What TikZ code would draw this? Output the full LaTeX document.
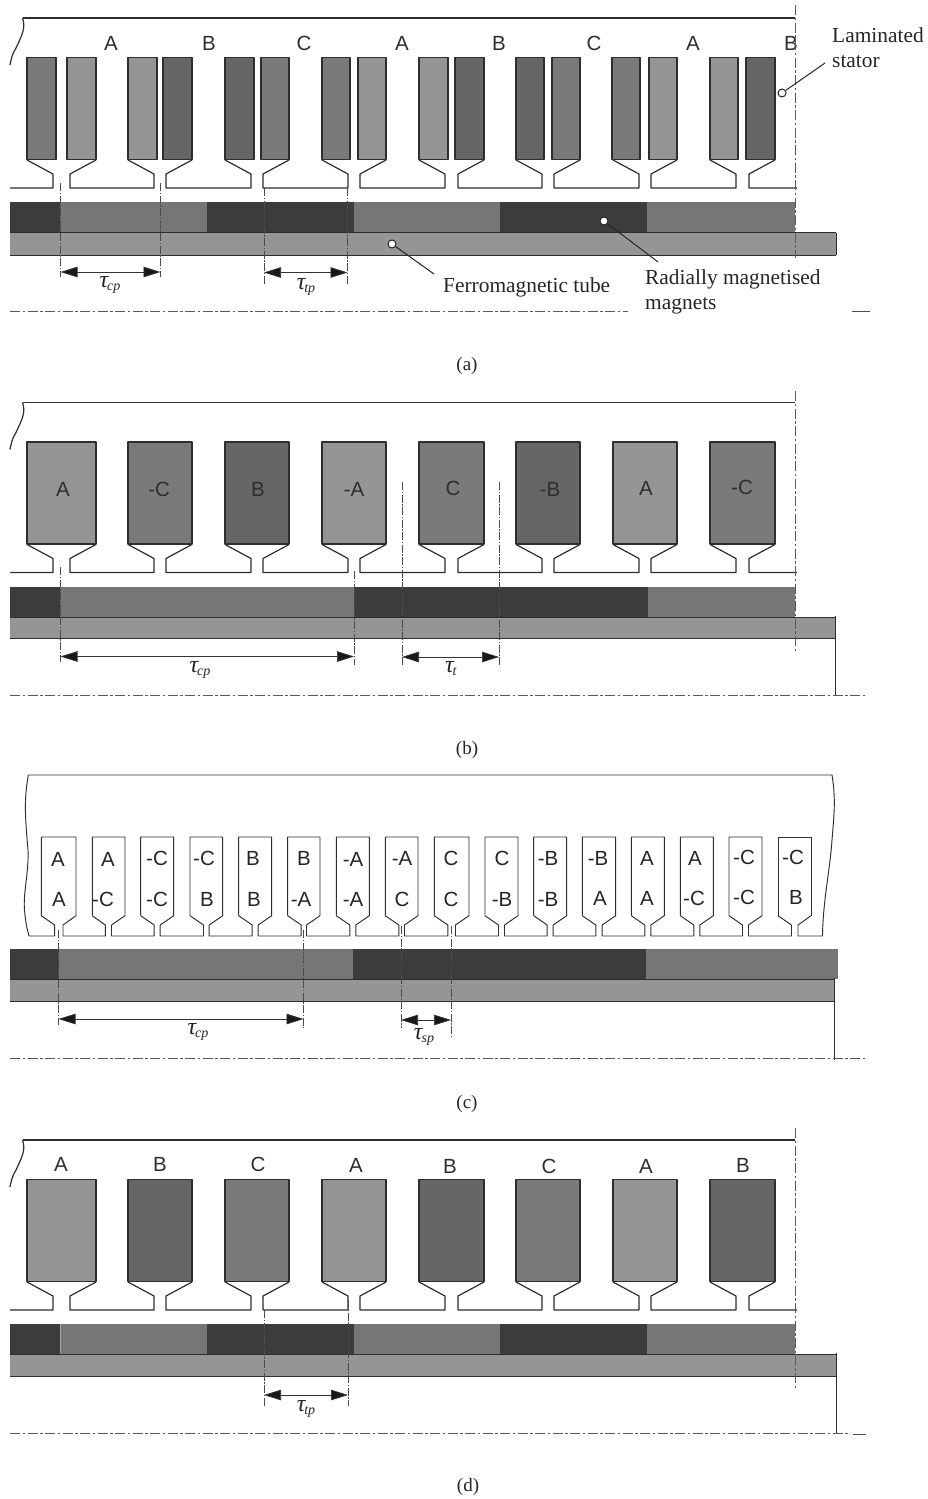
\documentclass[tikz,border=0pt]{standalone}
\usepackage{fontspec}
\setmainfont{Liberation Serif}
\newfontfamily\wfont{Liberation Sans}
\usetikzlibrary{arrows.meta,calc}
\definecolor{cA}{HTML}{959595}
\definecolor{cC}{HTML}{7A7A7A}
\definecolor{cB}{HTML}{666666}
\definecolor{mDark}{HTML}{3C3C3C}
\definecolor{mGrey}{HTML}{767676}
\definecolor{lineK}{HTML}{2E2E2E}
\tikzset{
  ol/.style={draw=lineK,line width=1.2pt,line join=round},
  olc/.style={draw=lineK,line width=.95pt,line join=round},
  wl/.style={font=\wfont\fontsize{20.5}{22}\selectfont,text=black!82,inner sep=0pt},
  cl/.style={font=\wfont\fontsize{20.5}{22}\selectfont,text=black!85,inner sep=0pt},
  lbl/.style={font=\fontsize{21.4}{24}\selectfont,text=black!85,inner sep=0pt,anchor=base west},
  capt/.style={font=\fontsize{19}{20}\selectfont,text=black!85,inner sep=0pt},
  taul/.style={text=black!85,inner sep=0pt,anchor=base},
  axisl/.style={draw=black!65,line width=.9pt,dash pattern=on 10pt off 2.5pt on 2.5pt off 2.5pt},
  ext/.style={draw=black!70,line width=.6pt,dash pattern=on 8pt off 1.5pt on 1.5pt off 1.5pt},
  dim/.style={draw=black!80,line width=.7pt,{Triangle[length=17pt,width=10.5pt,fill=black!90]}-{Triangle[length=17pt,width=10.5pt,fill=black!90]}},
  lead/.style={draw=black!85,line width=1pt},
  dotm/.style={circle,draw=black!85,fill=white,line width=1pt,minimum size=8pt,inner sep=0pt},
  tubeb/.style={fill=cA},
  tubel/.style={draw=lineK,line width=1pt},
}
\newcommand{\tausym}[1]{{\fontsize{24}{26}\selectfont\itshape τ}\kern-1pt\raisebox{-3pt}{\fontsize{14}{14}\selectfont\textit{#1}}}
\newcommand{\teethrow}{%
  \draw[ol] (22.5,18) .. controls (26,28) and (22,35) .. (16,48) .. controls (12,54) and (11,60) .. (10,65);
  \draw[ol] (22.5,18) -- (795,18);
  \draw[ol] (10,188) -- (53,188) -- (53,174) -- (27,160);
  \foreach \a/\b in {96/128,192/225,289/322,386/419,484/516,580/613,677/710}
    \draw[ol] (\a,160) -- ++(-26,14) -- ++(0,14) -- ($(\b,188)+(26,0)$) -- ++(0,-14) -- (\b,160);
  \draw[ol] (775,160) -- (749,174) -- (749,188) -- (797,188);
}
\newcommand{\magnets}[3]{%
  \fill[mDark] (10,#1) rectangle (60,#2);
  \fill[mGrey] (60,#1) rectangle (207,#2);
  \fill[mDark] (207,#1) rectangle (354,#2);
  \fill[mGrey] (354,#1) rectangle (500,#2);
  \fill[mDark] (500,#1) rectangle (647,#2);
  \fill[mGrey] (647,#1) rectangle (795,#2);
  \fill[tubeb] (10,#2) rectangle (836,#3);
  \draw[tubel] (10,#2) -- (836,#2);
  \draw[tubel] (10,#3) -- (836,#3);
  \draw[tubel] (836,#2) -- (836,#3);
}
\begin{document}
\begin{tikzpicture}[x=1pt,y=-1pt]
\useasboundingbox (0,0) rectangle (928,1499);
\fill[white] (0,0) rectangle (928,1499);

%% ---------- panel (a)
\teethrow
\foreach \l/\r/\c in {27/56/cC,67/96/cA,128/157/cA,163/192/cB,225/254/cB,261/289/cC,322/350/cC,358/386/cA,419/448/cA,455/484/cB,516/544/cB,552/580/cC,612/640/cC,649/677/cA,710/738/cA,746/775/cB}
  \draw[ol,fill=\c] (\l,57.5) rectangle (\r,159.5);
\foreach \x/\t [count=\i] in {111/A,209/B,304/C,402/A,499/B,594/C,693/A,791/B}
  \node[wl] (aw\i) at (\x,43) {\t};
\magnets{202}{232.5}{255}
\draw[axisl] (795,5) -- (795,258);
\coordinate (ae1t) at (60.5,183); \coordinate (ae1b) at (60.5,277);
\coordinate (ae2t) at (160.5,183); \coordinate (ae2b) at (160.5,277);
\coordinate (ae3t) at (264,188); \coordinate (ae3b) at (264,285);
\coordinate (ae4t) at (347.5,188); \coordinate (ae4b) at (347.5,284);
\foreach \k in {1,2,3,4} \draw[ext] (ae\k t) -- (ae\k b);
\coordinate (ad1) at (60.5,272); \coordinate (ad2) at (160.5,272);
\coordinate (ad3) at (264,272.5); \coordinate (ad4) at (347.5,272.5);
\draw[dim] (ad1) -- (ad2);
\draw[dim] (ad3) -- (ad4);
\node[taul] (at1) at (110,287) {\tausym{cp}};
\node[taul] (at2) at (306,289) {\tausym{tp}};
\coordinate (axl) at (10,311); \coordinate (axr) at (628,311);
\draw[axisl] (axl) -- (axr);
\coordinate (axs1) at (852,311); \coordinate (axs2) at (870,311);
\draw[draw=black!70,line width=.9pt] (axs1) -- (axs2);
% callouts
\node[lbl] (lam) at (832,42) {Laminated};
\node[lbl] (sta) at (832,67) {stator};
\node[dotm] (d1) at (782,93) {};
\coordinate (d1e) at (825,63);
\draw[lead] (d1) -- (d1e);
\node[lbl] (rad) at (645,284) {Radially magnetised};
\node[lbl] (mgs) at (645,309) {magnets};
\node[dotm] (d2) at (604,221) {};
\coordinate (d2e) at (658,262);
\draw[lead] (d2) -- (d2e);
\node[lbl] (fer) at (443,292) {Ferromagnetic tube};
\node[dotm] (d3) at (392,244) {};
\coordinate (d3e) at (434,274);
\draw[lead] (d3) -- (d3e);
\node[capt] (ca) at (467,366) {(a)};

%% ---------- panel (b)
\begin{scope}[shift={(0,384.5)}]
\teethrow
\foreach \l/\r/\c in {27/96/cA,128/192/cC,225/289/cB,322/386/cA,419/484/cC,516/580/cB,613/677/cA,710/775/cC}
  \draw[ol,fill=\c] (\l,57.5) rectangle (\r,159.5);
\end{scope}
\foreach \x/\y/\t [count=\i] in {63/489/A,159/489/-C,258/489/B,354/489/-A,453/488/C,550/489/-B,646/488/A,742/487/-C}
  \node[wl] (bw\i) at (\x,\y) {\t};
\fill[mDark] (10,587) rectangle (60,617);
\fill[mGrey] (60,587) rectangle (354,617);
\fill[mDark] (354,587) rectangle (648,617);
\fill[mGrey] (648,587) rectangle (795,617);
\fill[tubeb] (10,617) rectangle (836,638.5);
\draw[tubel] (10,617) -- (836,617);
\draw[tubel] (10,638.5) -- (836,638.5);
\coordinate (bv1) at (835.5,616); \coordinate (bv2) at (835.5,696);
\draw[draw=lineK,line width=.9pt] (bv1) -- (bv2);
\draw[axisl] (795,391) -- (795,651);
\coordinate (be1t) at (60.5,567); \coordinate (be1b) at (60.5,662);
\coordinate (be2t) at (354,571); \coordinate (be2b) at (354,665);
\coordinate (be3t) at (402,482); \coordinate (be3b) at (402,665);
\coordinate (be4t) at (499,482); \coordinate (be4b) at (499,665);
\foreach \k in {1,2,3,4} \draw[ext] (be\k t) -- (be\k b);
\coordinate (bd1) at (60.5,656.5); \coordinate (bd2) at (354,656.5);
\coordinate (bd3) at (402,657); \coordinate (bd4) at (499,657);
\draw[dim] (bd1) -- (bd2);
\draw[dim] (bd3) -- (bd4);
\node[taul] (bt1) at (200,672) {\tausym{cp}};
\node[taul] (bt2) at (451,672) {\tausym{t}};
\coordinate (bxl) at (10,695); \coordinate (bxr) at (866,695);
\draw[axisl] (bxl) -- (bxr);
\node[capt] (cb) at (467,750) {(b)};

%% ---------- panel (c)
\draw[olc] (28.3,775) .. controls (24,800) and (25,815) .. (28,850)
  .. controls (29,875) and (22,895) .. (25,915) .. controls (26,925) and (28,932) .. (29,936) -- (54.7,936) -- (54.7,925) -- (41.3,915.7)
  -- (41.3,837) -- (76,837) -- (76,915.7) -- (63,925) -- (63,936) -- (105.3,936) -- (105.3,925) -- (92.3,915.7);
\draw[olc] (28.3,775) -- (832,775) .. controls (836,800) and (834,815) .. (832,840) .. controls (830,870) and (823,900) .. (822.5,936) -- (798,936) -- (798,925) -- (811,915.7);
\foreach \l/\r/\n in {92.3/125/140.7,140.7/173.7/190,190/222.7/238.7,238.7/271.7/287.7,287.7/320/336.3,336.3/369.3/385.3,385.3/418/434.3,434.3/469/485,485/518/533.7,533.7/566.7/582.3,582.3/615.7/631.3,631.3/664.3/680.3,680.3/713.3/729,729/762/778}
{
  \draw[olc] (\l,915.7) -- (\l,837) -- (\r,837) -- (\r,915.7) -- ++(-13.5,9.3) -- ++(0,11) -- ($(\n,936)+(13.5,0)$) -- ++(0,-11) -- (\n,915.7);
}
\draw[olc] (778,915.7) -- (778,837) -- (811,837) -- (811,915.7);
\foreach \x/\y/\t [count=\i] in {
  58/859/A,59/899/A,108/859/A,103/899/-C,157/858/-C,157/899/-C,204/858/-C,207/899/B,
  253/858/B,254/899/B,304/858/B,301/899/-A,353/859/-A,353/899/-A,402/858/-A,402/899/C,
  451/858/C,451/899/C,502/858/C,502/899/-B,548/858/-B,548/899/-B,598/858/-B,600/898/A,
  647/858/A,647/898/A,695/858/A,694/898/-C,744/857/-C,744/897/-C,793/857/-C,796/897/B}
  \node[cl] (cw\i) at (\x,\y) {\t};
\fill[mDark] (10,949) rectangle (59,979);
\fill[mGrey] (59,949) rectangle (353,979);
\fill[mDark] (353,949) rectangle (646,979);
\fill[mGrey] (646,949) rectangle (838,979);
\fill[tubeb] (10,979) rectangle (835,1001.5);
\draw[tubel] (10,979) -- (835,979);
\draw[tubel] (10,1001.5) -- (835,1001.5);
\coordinate (cv1) at (834.5,978); \coordinate (cv2) at (834.5,1060);
\draw[draw=lineK,line width=.9pt] (cv1) -- (cv2);
\coordinate (ce1t) at (58.5,930); \coordinate (ce1b) at (58.5,1025);
\coordinate (ce2t) at (303.5,930); \coordinate (ce2b) at (303.5,1028);
\coordinate (ce3t) at (401,926); \coordinate (ce3b) at (401,1028);
\coordinate (ce4t) at (451,926); \coordinate (ce4b) at (451,1036);
\foreach \k in {1,2,3,4} \draw[ext] (ce\k t) -- (ce\k b);
\coordinate (cd1) at (58.5,1019); \coordinate (cd2) at (303.5,1019);
\coordinate (cd3) at (401,1020); \coordinate (cd4) at (451,1020);
\draw[dim] (cd1) -- (cd2);
\draw[dim] (cd3) -- (cd4);
\node[taul] (ct1) at (198,1034) {\tausym{cp}};
\node[taul] (ct2) at (424,1039) {\tausym{sp}};
\coordinate (cxl) at (10,1058); \coordinate (cxr) at (865,1058);
\draw[axisl] (cxl) -- (cxr);
\node[capt] (cc) at (467,1104) {(c)};

%% ---------- panel (d)
\begin{scope}[shift={(0,1122)}]
\teethrow
\foreach \l/\r/\c in {27/96/cA,128/192/cB,225/289/cC,322/386/cA,419/484/cB,516/580/cC,613/677/cA,710/775/cB}
  \draw[ol,fill=\c] (\l,57.5) rectangle (\r,159.5);
\end{scope}
\foreach \x/\y/\t [count=\i] in {61/1164/A,160/1164/B,258/1164/C,356/1165/A,450/1166/B,549/1166/C,646/1166/A,743/1165/B}
  \node[wl] (dw\i) at (\x,\y) {\t};
\magnets{1323.5}{1354}{1376.5}
\draw[draw=black!35,line width=.6pt] (60,1323.5) -- (60,1353);
\coordinate (dv1) at (836,1353); \coordinate (dv2) at (836,1434);
\draw[draw=lineK,line width=.9pt] (dv1) -- (dv2);
\draw[axisl] (795,1128) -- (795,1388);
\coordinate (de1t) at (264,1310); \coordinate (de1b) at (264,1406);
\coordinate (de2t) at (348,1300); \coordinate (de2b) at (348,1406);
\draw[ext] (de1t) -- (de1b);
\draw[ext] (de2t) -- (de2b);
\coordinate (dd1) at (264,1395); \coordinate (dd2) at (348,1395);
\draw[dim] (dd1) -- (dd2);
\node[taul] (dt1) at (306,1411) {\tausym{tp}};
\coordinate (dxl) at (10,1433); \coordinate (dxr) at (850,1433);
\draw[axisl] (dxl) -- (dxr);
\coordinate (dxs1) at (853,1434); \coordinate (dxs2) at (866,1434);
\draw[draw=black!70,line width=.9pt] (dxs1) -- (dxs2);
\node[capt] (cd) at (468,1487) {(d)};
\end{tikzpicture}
\end{document}
